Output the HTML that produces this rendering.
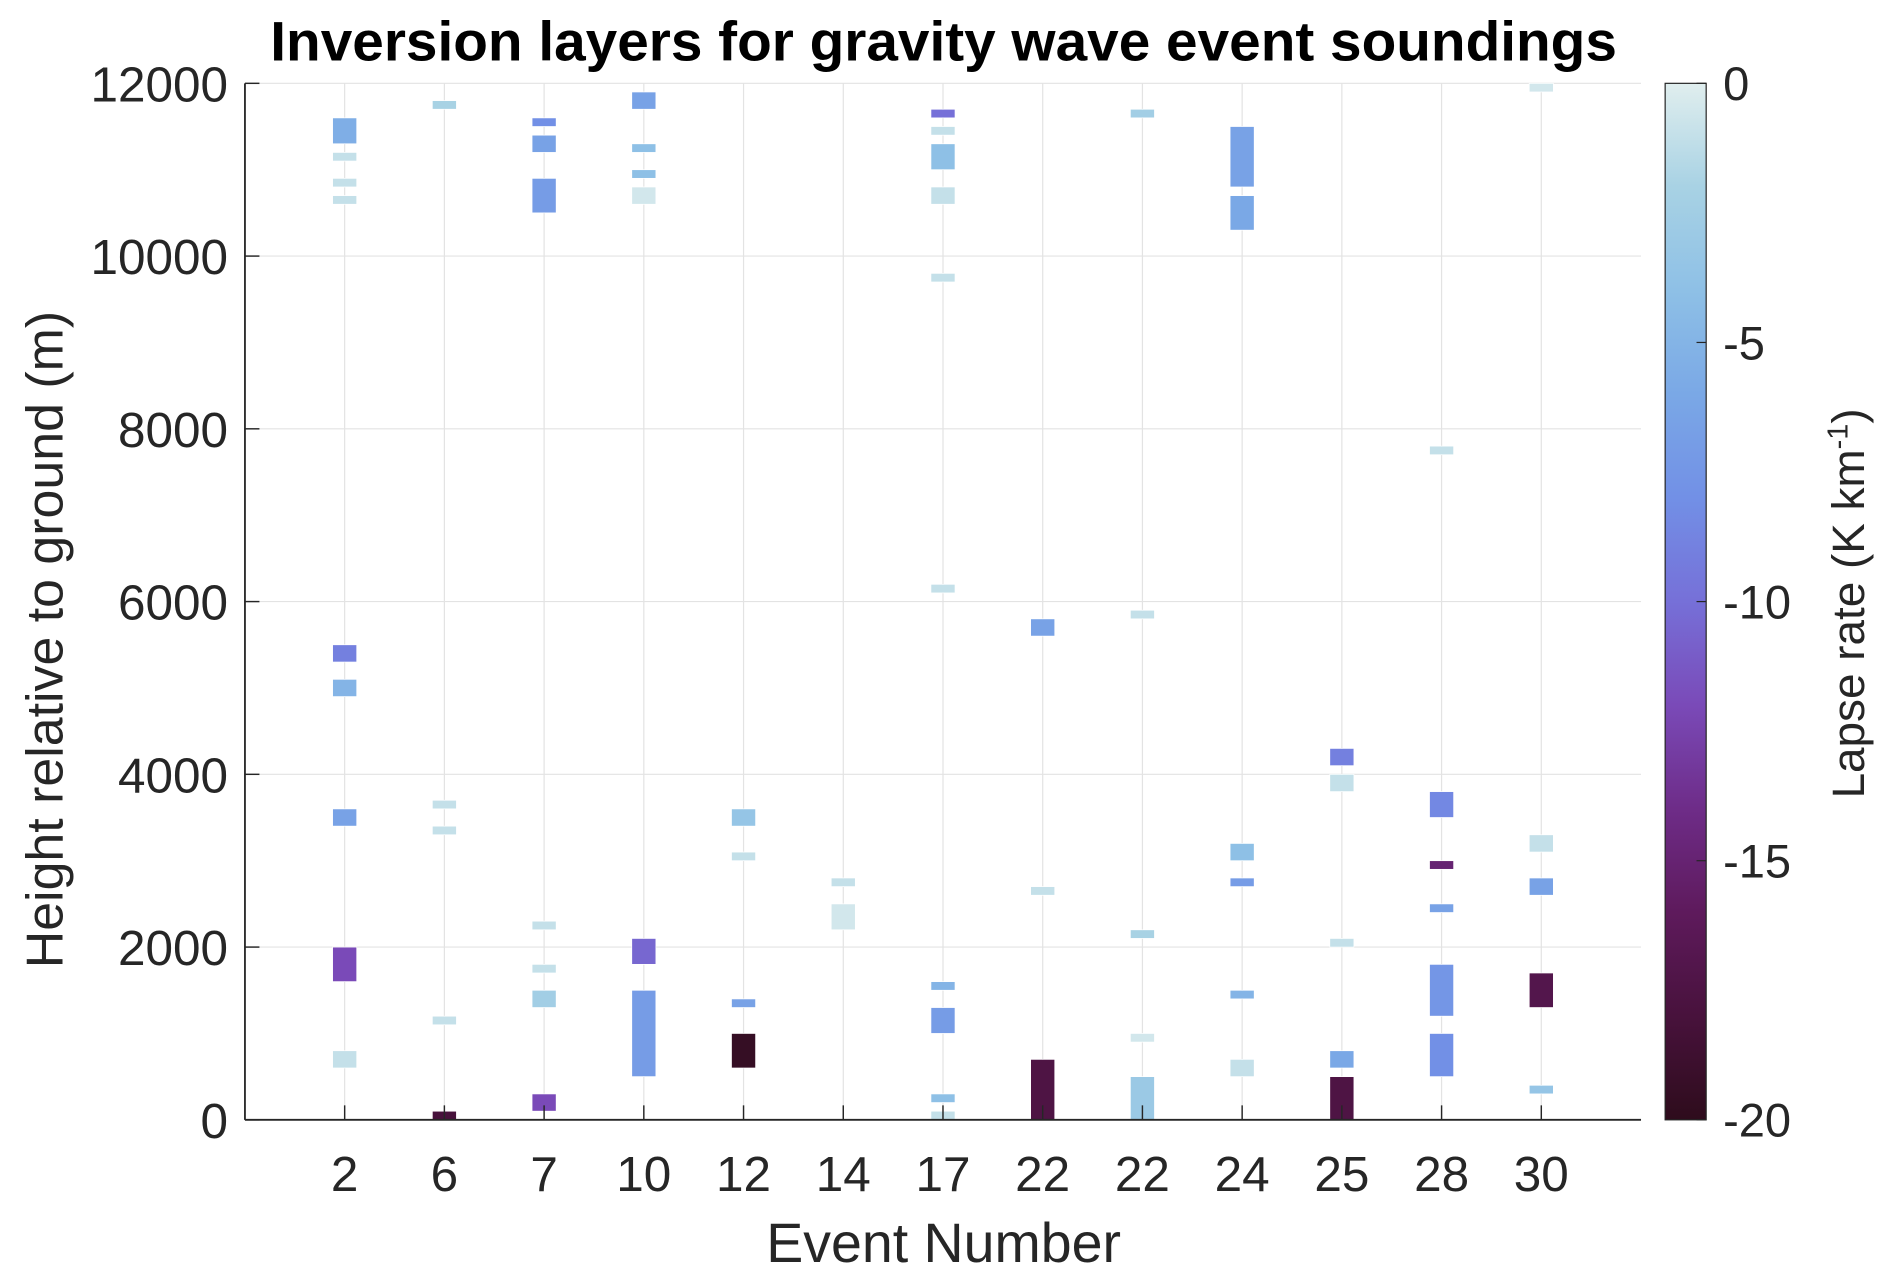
<!DOCTYPE html>
<html><head><meta charset="utf-8"><style>
html,body{margin:0;padding:0;background:#fff;}
svg{display:block;font-family:"Liberation Sans",Arial,sans-serif;}
</style></head><body>
<svg id="chart" width="1892" height="1284" viewBox="0 0 1568 1064" xmlns="http://www.w3.org/2000/svg">
<defs>
<linearGradient id="cmap" x1="0" y1="0" x2="0" y2="1">
<stop offset="0" stop-color="#e0eeee"/><stop offset="0.1" stop-color="#a8d2e4"/><stop offset="0.2" stop-color="#8ec0e6"/>
<stop offset="0.3" stop-color="#7aa8e6"/><stop offset="0.4" stop-color="#7290e6"/><stop offset="0.5" stop-color="#7670d8"/>
<stop offset="0.6" stop-color="#7a4ab8"/><stop offset="0.7" stop-color="#6e2c88"/><stop offset="0.8" stop-color="#5e1a5c"/>
<stop offset="0.9" stop-color="#48123c"/><stop offset="1" stop-color="#2e0c1c"/>
</linearGradient>
</defs>
<g id="grid"></g>
<g id="bars"></g>
<g id="axes"></g>
<text x="782" y="50" text-anchor="middle" font-size="46" font-weight="bold" fill="#000" textLength="1116" lengthAdjust="spacingAndGlyphs">Inversion layers for gravity wave event soundings</text>
<text x="782" y="1046" text-anchor="middle" font-size="46" fill="#262626">Event Number</text>
<text transform="translate(52,530) rotate(-90)" text-anchor="middle" font-size="43" fill="#262626">Height relative to ground (m)</text>
<g>
<rect x="1380" y="69" width="34" height="859" fill="url(#cmap)" stroke="#262626" stroke-width="1"/>
<g id="cbticks"></g>
<text transform="translate(1545,500) rotate(-90)" text-anchor="middle" font-size="38" fill="#262626">Lapse rate (K km<tspan dy="-14" font-size="24">-1</tspan><tspan dy="14">)</tspan></text>
</g>
</svg>
<script>
const categories = ["2","6","7","10","12","14","17","22","22","24","25","28","30"];
const yTicks = [0,2000,4000,6000,8000,10000,12000];
const yTickLabels = ["0","2000","4000","6000","8000","10000","12000"];
const cbTicks = [0,-5,-10,-15,-20];
const layerEvent = [0,0,0,0,0,0,0,0,0, 1,1,1,1,1, 2,2,2,2,2,2,2, 3,3,3,3,3,3, 4,4,4,4, 5,5, 6,6,6,6,6,6,6,6,6,6, 7,7,7, 8,8,8,8,8, 9,9,9,9,9,9, 10,10,10,10,10, 11,11,11,11,11,11, 12,12,12,12,12];
const layerBottom = [11300,11100,10800,10600,5300,4900,3400,1600,600, 11700,3600,3300,1100,0, 11500,11200,10500,2200,1700,1300,100, 11700,11200,10900,10600,1800,500, 3400,3000,1300,600, 2700,2200, 11600,11400,11000,10600,9700,6100,1500,1000,200,0, 5600,2600,0, 11600,5800,2100,900,0, 10800,10300,3000,2700,1400,500, 4100,3800,2000,600,0, 7700,3500,2900,2400,1200,500, 11900,3100,2600,1300,300];
const layerTop = [11600,11200,10900,10700,5500,5100,3600,2000,800, 11800,3700,3400,1200,100, 11600,11400,10900,2300,1800,1500,300, 11900,11300,11000,10800,2100,1500, 3600,3100,1400,1000, 2800,2500, 11700,11500,11300,10800,9800,6200,1600,1300,300,100, 5800,2700,700, 11700,5900,2200,1000,500, 11500,10700,3200,2800,1500,700, 4300,4000,2100,800,500, 7800,3800,3000,2500,1800,1000, 12000,3300,2800,1700,400];
const layerRate = [-5.5,-1,-1,-1,-9,-5,-6.5,-12,-1, -2,-1,-1,-1,-18, -8,-6.5,-7,-1,-1,-2.5,-12, -6.5,-4,-4,-0.5,-10.5,-7, -3.5,-1,-6.5,-19.5, -1,-0.5, -10,-1,-4,-1,-1,-1,-5,-7,-4,-1, -6.5,-1,-17.5, -2.5,-1,-2,-0.5,-3, -6.5,-6,-4,-7,-5,-1, -9,-1,-1,-6,-17.5, -1,-8.5,-15,-6.5,-7.5,-8, -0.5,-1,-6.5,-17,-3.5];

const L=203,R=1360,T=69,B=928;
const xs = i => L + (i+1)*(R-L)/(categories.length+1);
const ys = v => B - v/12000*(B-T);
const stops=[[0,"#e0eeee"],[-2,"#a8d2e4"],[-4,"#8ec0e6"],[-6,"#7aa8e6"],[-8,"#7290e6"],[-10,"#7670d8"],[-12,"#7a4ab8"],[-14,"#6e2c88"],[-16,"#5e1a5c"],[-18,"#48123c"],[-20,"#2e0c1c"]];
function hex(c){return [1,3,5].map(k=>parseInt(c.substr(k,2),16));}
function cmap(v){v=Math.max(-20,Math.min(0,v));for(let k=0;k<stops.length-1;k++){const a=stops[k],b=stops[k+1];if(v<=a[0]&&v>=b[0]){const t=(a[0]-v)/(a[0]-b[0]);const ca=hex(a[1]),cb=hex(b[1]);return "rgb("+ca.map((x,j)=>Math.round(x+(cb[j]-x)*t)).join(",")+")";}}return stops[0][1];}
const NS="http://www.w3.org/2000/svg";
function mk(tag,attrs,parent,txt){const e=document.createElementNS(NS,tag);for(const k in attrs)e.setAttribute(k,attrs[k]);if(txt!==undefined)e.textContent=txt;parent.appendChild(e);return e;}
const grid=document.getElementById('grid'),bars=document.getElementById('bars'),axes=document.getElementById('axes'),cbt=document.getElementById('cbticks');
yTicks.forEach((v,i)=>{
  const g=mk('line',{x1:L,x2:R,y1:ys(v),y2:ys(v),stroke:"#e3e3e3","stroke-width":1},grid);
  
  
  const t=mk('text',{x:L-14,y:ys(v)+15,"text-anchor":"end","font-size":41,fill:"#262626"},axes,yTickLabels[i]);
  
  
  mk('line',{x1:L,x2:L+12,y1:ys(v),y2:ys(v),stroke:"#262626","stroke-width":1.2},axes);
});
categories.forEach((c,i)=>{
  const g=mk('line',{x1:xs(i),x2:xs(i),y1:T,y2:B,stroke:"#e3e3e3","stroke-width":1},grid);
  
  
  mk('line',{x1:xs(i),x2:xs(i),y1:B,y2:B-12,stroke:"#262626","stroke-width":1.2},axes);
  const t=mk('text',{x:xs(i),y:B+59,"text-anchor":"middle","font-size":41,fill:"#262626"},axes,c);
  
  
});
mk('line',{x1:L,x2:L,y1:T,y2:B,stroke:"#262626","stroke-width":1.5},axes);
mk('line',{x1:L,x2:R,y1:B,y2:B,stroke:"#262626","stroke-width":1.5},axes);
const bw=20;
layerEvent.forEach((e,i)=>{
  const y1=ys(layerTop[i]),y2=ys(layerBottom[i]);
  const r=mk('rect',{x:xs(e)-bw/2,y:y1,width:bw,height:y2-y1,fill:cmap(layerRate[i]),stroke:"#ffffff","stroke-width":0.6},bars);
  
  
});
cbTicks.forEach(v=>{
  const y=T+(-v)/20*(B-T);
  mk('line',{x1:1414,x2:1406,y1:y,y2:y,stroke:"#262626","stroke-width":1},cbt);
  const t=mk('text',{x:1428,y:y+14,"font-size":39,fill:"#262626"},cbt,String(v));
  
  
});
</script>
</body></html>
